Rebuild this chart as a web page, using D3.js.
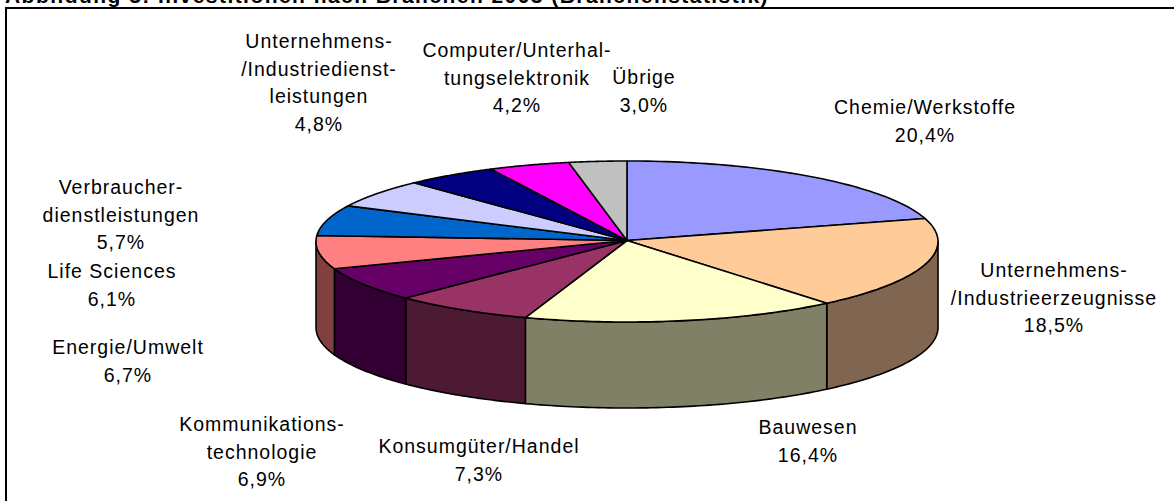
<!DOCTYPE html>
<html lang="de">
<head>
<meta charset="UTF-8">
<title>Abbildung 3</title>
<script src="https://cdn.jsdelivr.net/npm/d3@7"></script>
<style>
    html, body { margin: 0; padding: 0; background: white; overflow: hidden; }
    text { font-family: "Liberation Sans", Arial, sans-serif; font-size: 19.5px; letter-spacing: 1px; fill: black; }
    .title { font-weight: bold; font-size: 21px; letter-spacing: 1.45px; }
    .edge { stroke: black; stroke-width: 1.6; stroke-linejoin: round; }
</style>
</head>
<body>
<script>
const titleText = "Abbildung 3: Investitionen nach Branchen 2003 (Branchenstatistik)";
const categories = ["Chemie/Werkstoffe", "Unternehmens-/Industrieerzeugnisse", "Bauwesen", "Konsumgüter/Handel",
    "Kommunikationstechnologie", "Energie/Umwelt", "Life Sciences", "Verbraucherdienstleistungen",
    "Unternehmens-/Industriedienstleistungen", "Computer/Unterhaltungselektronik", "Übrige"];
const shares = [20.4, 18.5, 16.4, 7.3, 6.9, 6.7, 6.1, 5.7, 4.8, 4.2, 3.0];
const topColors = ["#9999ff", "#ffcc99", "#ffffcc", "#993366", "#660066", "#ff8080", "#0066cc", "#ccccff", "#000080", "#ff00ff", "#c0c0c0"];
const sideColors = ["#4d4d80", "#806650", "#808066", "#4d1a33", "#330033", "#804040", "#003366", "#666680", "#000040", "#800080", "#606060"];
const labelLines = [
    ["Chemie/Werkstoffe", "20,4%"],
    ["Unternehmens-", "/Industrieerzeugnisse", "18,5%"],
    ["Bauwesen", "16,4%"],
    ["Konsumgüter/Handel", "7,3%"],
    ["Kommunikations-", "technologie", "6,9%"],
    ["Energie/Umwelt", "6,7%"],
    ["Life Sciences", "6,1%"],
    ["Verbraucher-", "dienstleistungen", "5,7%"],
    ["Unternehmens-", "/Industriedienst-", "leistungen", "4,8%"],
    ["Computer/Unterhal-", "tungselektronik", "4,2%"],
    ["Übrige", "3,0%"]
];
// centre x and first baseline of each label block
const labelX = [925, 1054, 808, 479, 262, 128, 112, 121, 319, 517, 644];
const labelY = [114, 277, 434, 453, 431, 354, 278, 194, 48, 57, 84];
const lineGap = 27.6;

const width = 1174, height = 501;
const svg = d3.select("body").append("svg").attr("width", width).attr("height", height).style("display", "block");

// frame is cut off by the picture on the right and at the bottom
svg.append("path").attr("d", "M6,501V8H1174").attr("fill", "none").attr("stroke", "black").attr("stroke-width", 2);

svg.append("text").attr("class", "title").attr("x", 5).attr("y", 3).text(titleText);

// ellipse as scaled unit circle
const x = d3.scaleLinear().domain([-1, 1]).range([316, 938]);
const yTop = d3.scaleLinear().domain([-1, 1]).range([161, 322]);
const apex = [x(0), 240.5];
const depth = 86;

const pie = d3.pie().sort(null).value(d => d);
const slices = pie(shares);

const rim = (a0, a1) => d3.range(0, 61).map(i => a0 + (a1 - a0) * i / 60);
const line = d3.line();
const pt = (a, dy = 0) => [x(Math.sin(a)), yTop(-Math.cos(a)) + dy];

// walls, front half only
const front0 = Math.PI / 2, front1 = Math.PI * 3 / 2;
svg.append("g").selectAll("path")
    .data(slices.filter(d => d.endAngle > front0 && d.startAngle < front1))
    .join("path")
    .attr("class", "edge")
    .attr("fill", d => sideColors[d.index])
    .attr("d", d => {
        const a0 = Math.max(d.startAngle, front0), a1 = Math.min(d.endAngle, front1);
        const upper = rim(a0, a1).map(a => pt(a));
        const lower = rim(a0, a1).map(a => pt(a, depth)).reverse();
        return line(upper.concat(lower)) + "Z";
    });

// top faces
svg.append("g").selectAll("path")
    .data(slices)
    .join("path")
    .attr("class", "edge")
    .attr("fill", d => topColors[d.index])
    .attr("d", d => line([apex].concat(rim(d.startAngle, d.endAngle).map(a => pt(a)))) + "Z");

// labels
svg.append("g").selectAll("text")
    .data(labelLines)
    .join("text")
    .attr("text-anchor", "middle")
    .attr("data-name", (d, i) => categories[i])
    .each(function(d, i) {
        d3.select(this).selectAll("tspan")
            .data(d)
            .join("tspan")
            .attr("x", labelX[i])
            .attr("y", (t, j) => labelY[i] + j * lineGap)
            .text(t => t);
    });
</script>
</body>
</html>
